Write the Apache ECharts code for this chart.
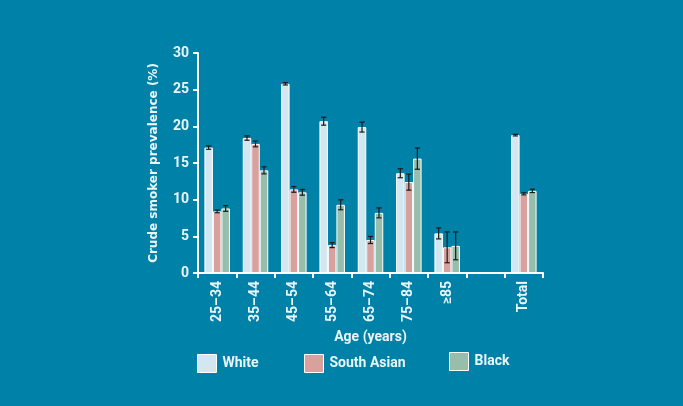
<!DOCTYPE html>
<html><head><meta charset="utf-8">
<script src="https://cdn.jsdelivr.net/npm/echarts@6/dist/echarts.min.js"></script>
<style>html,body{margin:0;padding:0;background:#0082a8;}#c{width:683px;height:406px;}</style>
</head><body><div id="c"></div>
<script>
const categories = ['25–34','35–44','45–54','55–64','65–74','75–84','≥85','','Total'];
const white      = [17.1, 18.4, 25.8, 20.7, 19.9, 13.6, 5.4, null, 18.8];
const southAsian = [8.4, 17.6, 11.4, 3.8, 4.5, 12.4, 3.5, null, 10.8];
const black      = [8.8, 14.0, 11.0, 9.3, 8.2, 15.6, 3.7, null, 11.2];
const whiteErr      = [0.23, 0.3, 0.16, 0.54, 0.68, 0.61, 0.75, null, 0.11];
const southAsianErr = [0.18, 0.39, 0.39, 0.34, 0.48, 1.1, 2.1, null, 0.14];
const blackErr      = [0.39, 0.48, 0.39, 0.68, 0.68, 1.45, 1.9, null, 0.23];
const yTicks = [0, 5, 10, 15, 20, 25, 30];

const txt = '#eaf5f9';
const font = 'Roboto';
const BW = 8.5;
const colors = ['#d3e7f1', '#d9a19e', '#97bdab'];
const seriesNames = ['White', 'South Asian', 'Black'];
const vals = [white, southAsian, black];
const errs = [whiteErr, southAsianErr, blackErr];

function errData(v, e) {
  return v.map((x, i) => x == null ? [i, null, null] : [i, x - e[i], x + e[i]]);
}

const series = [];
vals.forEach((v, k) => {
  series.push({
    name: seriesNames[k], type: 'bar', data: v, barWidth: BW, barGap: '0%',
    itemStyle: { color: colors[k], borderColor: '#ffffff', borderWidth: 1 }
  });
});
vals.forEach((v, k) => {
  series.push({
    type: 'custom', name: 'err' + k, z: 10, silent: true,
    data: errData(v, errs[k]),
    encode: { x: 0, y: [1, 2] },
    renderItem: function (params, api) {
      const lo = api.value(1), hi = api.value(2);
      if (lo == null || isNaN(lo)) return;
      const p1 = api.coord([api.value(0), lo]);
      const p2 = api.coord([api.value(0), hi]);
      const x = p1[0] + (k - 1) * BW;
      const cap = 2.6;
      const st = { stroke: '#1b1b1b', lineWidth: 1.2 };
      return { type: 'group', children: [
        { type: 'line', shape: { x1: x, y1: p1[1], x2: x, y2: p2[1] }, style: st },
        { type: 'line', shape: { x1: x - cap, y1: p1[1], x2: x + cap, y2: p1[1] }, style: st },
        { type: 'line', shape: { x1: x - cap, y1: p2[1], x2: x + cap, y2: p2[1] }, style: st }
      ]};
    }
  });
});

function leg(name, left, top) {
  return {
    data: [name], left: left, top: top, itemWidth: 19, itemHeight: 18, itemGap: 0,
    icon: 'rect', selectedMode: false, padding: 0,
    textStyle: { color: txt, fontFamily: font, fontWeight: 'bold', fontSize: 14, padding: [0, 0, 0, 1] },
    itemStyle: { borderColor: '#ffffff', borderWidth: 1 }
  };
}

const chart = echarts.init(document.getElementById('c'));
chart.setOption({
  backgroundColor: '#0082a8',
  animation: false,
  grid: { left: 198, right: 140, top: 53, bottom: 133 },
  legend: [leg('White', 197, 354), leg('South Asian', 304, 354), leg('Black', 449, 352)],
  xAxis: {
    type: 'category', data: categories,
    name: 'Age (years)', nameLocation: 'middle', nameGap: 57,
    nameTextStyle: { color: txt, fontFamily: font, fontWeight: 'bold', fontSize: 14 },
    axisLine: { lineStyle: { color: '#ffffff', width: 2 } },
    axisTick: { show: true, length: 5, lineStyle: { color: '#ffffff', width: 2 } },
    axisLabel: { rotate: 90, color: txt, fontFamily: font, fontWeight: 'bold', fontSize: 14, margin: 8, interval: 0 }
  },
  yAxis: {
    type: 'value', min: 0, max: 30, interval: 5,
    name: 'Crude smoker prevalence (%)', nameLocation: 'middle', nameGap: 38,
    nameTextStyle: { color: txt, fontFamily: 'DejaVu Sans', fontWeight: 'bold', fontSize: 12 },
    axisLine: { show: true, lineStyle: { color: '#ffffff', width: 2 } },
    axisTick: { show: true, length: 5, lineStyle: { color: '#ffffff', width: 2 } },
    splitLine: { show: false },
    axisLabel: { color: txt, fontFamily: font, fontWeight: 'bold', fontSize: 14, margin: 9,
      formatter: v => yTicks.includes(v) ? String(v) : '' }
  },
  series: series
});
</script></body></html>
